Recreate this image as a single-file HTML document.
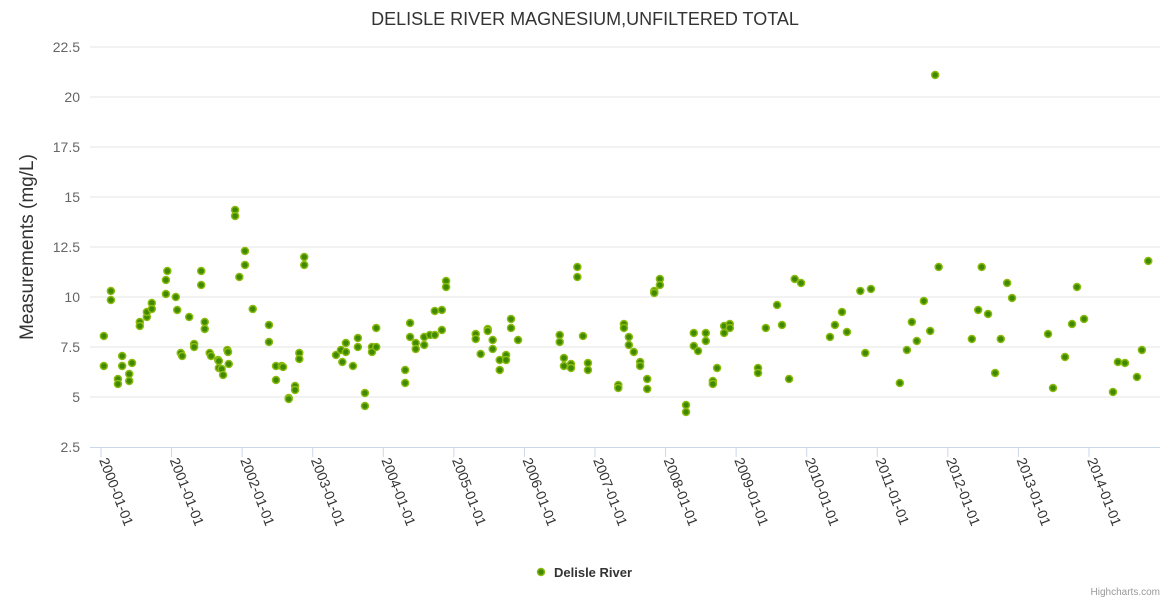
<!DOCTYPE html>
<html><head><meta charset="utf-8"><style>
html,body{margin:0;padding:0;background:#fff;}
svg{display:block;font-family:"Liberation Sans",Arial,sans-serif;}
</style></head><body>
<svg id="chart" width="1170" height="600" viewBox="0 0 1170 600">
<text x="585" y="25" text-anchor="middle" font-size="18" fill="#333">DELISLE RIVER MAGNESIUM,UNFILTERED TOTAL</text>
<g id="grid"></g><g id="yaxis"></g><g id="xaxis"></g><g id="series"></g>
<text transform="translate(33,247) rotate(-90)" text-anchor="middle" font-size="19" fill="#333">Measurements (mg/L)</text>
<g>
<circle cx="541" cy="572" r="3.5" fill="#3f8a00" stroke="#8cbb10" stroke-width="1.5"/>
<text x="554" y="577" font-size="13" font-weight="bold" fill="#333">Delisle River</text>
</g>
<text x="1160" y="595" text-anchor="end" font-size="10" fill="#999">Highcharts.com</text>
</svg>
<script>
const yTicks=[2.5,5,7.5,10,12.5,15,17.5,20,22.5];
const yTickLabels=["2.5","5","7.5","10","12.5","15","17.5","20","22.5"];
const xTickYears=[2000,2001,2002,2003,2004,2005,2006,2007,2008,2009,2010,2011,2012,2013,2014];
const xTickLabels=xTickYears.map(y=>y+"-01-01");
const dates=[0.04,0.04,0.14,0.14,0.24,0.24,0.30,0.30,0.40,0.40,0.44,0.55,0.55,0.65,0.65,0.72,0.72,0.92,0.92,0.94,1.06,1.08,1.13,1.15,1.25,1.32,1.32,1.42,1.42,1.47,1.47,1.54,1.56,1.66,1.67,1.67,1.71,1.73,1.79,1.80,1.81,1.90,1.90,1.96,2.04,2.04,2.15,2.38,2.38,2.48,2.48,2.56,2.58,2.66,2.66,2.75,2.75,2.81,2.81,2.88,2.88,3.33,3.40,3.42,3.47,3.47,3.57,3.64,3.64,3.74,3.74,3.84,3.84,3.90,3.90,
4.31,4.31,4.38,4.38,4.46,4.46,4.58,4.58,4.66,4.73,4.73,4.83,4.83,4.89,4.89,5.31,5.31,5.38,5.48,5.48,5.55,5.55,5.65,5.65,5.74,5.74,5.81,5.81,5.91,6.50,6.50,6.56,6.56,6.66,6.66,6.75,6.75,6.83,6.90,6.90,7.33,7.33,7.41,7.41,7.48,7.48,7.55,7.64,7.64,7.74,7.74,7.84,7.84,7.92,7.92,
8.29,8.29,8.40,8.40,8.46,8.57,8.57,8.67,8.67,8.73,8.83,8.83,8.91,8.91,9.31,9.31,9.42,9.58,9.65,9.75,9.83,9.92,10.33,10.40,10.50,10.57,10.76,10.83,10.91,11.32,11.42,11.49,11.56,11.66,11.75,11.82,11.87,12.34,12.43,12.48,12.57,12.67,12.75,12.84,12.91,13.42,13.49,13.66,13.76,13.83,13.93,14.34,14.41,14.51,14.68,14.75,14.84];
const values=[8.05,6.55,10.3,9.85,5.9,5.65,7.05,6.55,6.15,5.8,6.7,8.75,8.55,9.0,9.25,9.7,9.4,10.15,10.85,11.3,10.0,9.35,7.2,7.05,9.0,7.65,7.5,11.3,10.6,8.75,8.4,7.2,7.05,6.85,6.8,6.45,6.4,6.1,7.35,7.25,6.65,14.35,14.05,11.0,11.6,12.3,9.4,8.6,7.75,6.55,5.85,6.55,6.5,4.95,4.9,5.55,5.35,7.2,6.9,12.0,11.6,7.1,7.35,6.75,7.7,7.25,6.55,7.95,7.5,5.2,4.55,7.5,7.25,8.45,7.5,
6.35,5.7,8.7,8.0,7.7,7.4,8.0,7.6,8.1,8.1,9.3,9.35,8.35,10.8,10.5,8.15,7.9,7.15,8.4,8.3,7.85,7.4,6.85,6.35,7.1,6.85,8.9,8.45,7.85,8.1,7.75,6.95,6.55,6.65,6.45,11.5,11.0,8.05,6.7,6.35,5.6,5.45,8.65,8.45,8.0,7.6,7.25,6.75,6.55,5.9,5.4,10.3,10.2,10.9,10.6,
4.6,4.25,8.2,7.55,7.3,8.2,7.8,5.8,5.65,6.45,8.55,8.2,8.65,8.45,6.45,6.2,8.45,9.6,8.6,5.9,10.9,10.7,8.0,8.6,9.25,8.25,10.3,7.2,10.4,5.7,7.35,8.75,7.8,9.8,8.3,21.1,11.5,7.9,9.35,11.5,9.15,6.2,7.9,10.7,9.95,8.15,5.45,7.0,8.65,10.5,8.9,5.25,6.75,6.7,6.0,7.35,11.8];
const NS="http://www.w3.org/2000/svg";
const X0=101,PX_PER_YEAR=70.57,Y0=447,PX_PER_UNIT=20;
function xScale(t){return X0+t*PX_PER_YEAR;}
function yScale(v){return Y0-(v-2.5)*PX_PER_UNIT;}
function mk(tag,attrs,parent){const e=document.createElementNS(NS,tag);for(const k in attrs)e.setAttribute(k,attrs[k]);parent.appendChild(e);return e;}
const grid=document.getElementById('grid'),ya=document.getElementById('yaxis'),xa=document.getElementById('xaxis'),ser=document.getElementById('series');
yTicks.forEach((v,i)=>{
  const y=yScale(v);
  if(i>0){const l=mk('line',{x1:90,x2:1160,y1:y,y2:y,stroke:'#e6e6e6','stroke-width':1},grid);
  
  }
  const t=mk('text',{x:80,y:y+5,'text-anchor':'end','font-size':14,fill:'#666'},ya);
  t.textContent=yTickLabels[i];
  
  
});
const axl=mk('line',{x1:90,x2:1160,y1:Y0+0.5,y2:Y0+0.5,stroke:'#ccd6eb','stroke-width':1},xa);


xTickYears.forEach((yr,i)=>{
  const x=xScale(yr-2000);
  const tk=mk('line',{x1:x,x2:x,y1:Y0,y2:Y0+10,stroke:'#ccd6eb','stroke-width':1},xa);
  
  
  const t=mk('text',{transform:`translate(${x-2},${Y0+13}) rotate(69)`,'font-size':14,fill:'#333'},xa);
  t.textContent=xTickLabels[i];
  
  
});
dates.forEach((d,i)=>{
  const c=mk('circle',{cx:xScale(d),cy:yScale(values[i]),r:3.5,fill:'#3f8a00',stroke:'#8cbb10','stroke-width':1.5},ser);
  
  
});
</script>
</body></html>
